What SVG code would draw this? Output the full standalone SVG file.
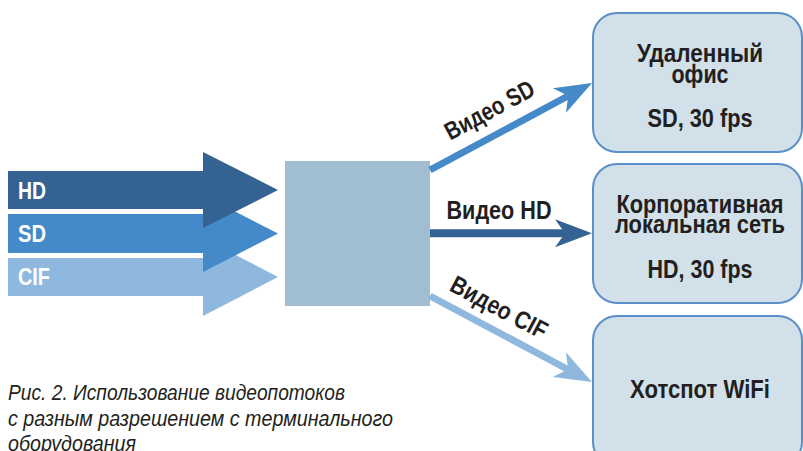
<svg xmlns="http://www.w3.org/2000/svg" xmlns:xlink="http://www.w3.org/1999/xlink" width="803" height="451" viewBox="0 0 803 451">
<style>
text{font-family:"Liberation Sans",Arial,sans-serif}
.lbl{font-weight:bold;fill:#231f20}
.in{font-weight:bold;fill:#ffffff;font-size:24px}
.box{fill:#d1e0e9;stroke:#5b8fc8;stroke-width:2}
.cap{font-style:italic;font-size:22px;fill:#231f20}
</style>
<defs>
<path id="head" d="M0,0 L-37,-14 L-27,0 L-37,14 Z"/>
</defs>
<rect width="803" height="451" fill="#ffffff"/>
<g id="in-cif">
<path d="M8,258 H203 V238 L278,277 L203,316 V296 H8 Z" fill="#8fb8de"/>
<text class="in" x="18" y="285" textLength="32" lengthAdjust="spacingAndGlyphs">CIF</text>
</g>
<g id="in-sd">
<path d="M8,214 H203 V195 L278,233.5 L203,272 V253 H8 Z" fill="#4489c8"/>
<text class="in" x="18" y="242" textLength="28" lengthAdjust="spacingAndGlyphs">SD</text>
</g>
<g id="in-hd">
<path d="M8,171 H203 V152 L278,190 L203,228 V209 H8 Z" fill="#346393"/>
<text class="in" x="18" y="198.5" textLength="28" lengthAdjust="spacingAndGlyphs">HD</text>
</g>
<g id="terminal">
<rect x="285" y="161" width="145" height="145" fill="#a0bdd2"/>
</g>
<g id="connectors">
<line x1="430" y1="170" x2="568" y2="96" stroke="#4489c8" stroke-width="7"/>
<use xlink:href="#head" fill="#4489c8" transform="translate(592,83) rotate(-28.2)"/>
<line x1="430" y1="233.3" x2="566" y2="233.3" stroke="#346393" stroke-width="8"/>
<use xlink:href="#head" fill="#346393" transform="translate(592,233.3)"/>
<line x1="430" y1="296" x2="568" y2="369.5" stroke="#8fb8de" stroke-width="7"/>
<use xlink:href="#head" fill="#8fb8de" transform="translate(592,382) rotate(28)"/>
<text class="lbl" font-size="25" text-anchor="middle" textLength="98" lengthAdjust="spacingAndGlyphs" transform="translate(493.5,117.5) rotate(-28.2)">Видео SD</text>
<text class="lbl" font-size="25" text-anchor="middle" textLength="105" lengthAdjust="spacingAndGlyphs" x="499" y="219">Видео HD</text>
<text class="lbl" font-size="25" text-anchor="middle" textLength="106" lengthAdjust="spacingAndGlyphs" transform="translate(495,315) rotate(28)">Видео CIF</text>
</g>
<g id="office">
<rect class="box" x="593" y="13" width="209" height="139" rx="24"/>
<text class="lbl" font-size="25" text-anchor="middle" textLength="126" lengthAdjust="spacingAndGlyphs" x="700" y="62">Удаленный</text>
<text class="lbl" font-size="25" text-anchor="middle" textLength="57" lengthAdjust="spacingAndGlyphs" x="700" y="83">офис</text>
<text class="lbl" font-size="25" text-anchor="middle" textLength="105" lengthAdjust="spacingAndGlyphs" x="700" y="127">SD, 30 fps</text>
</g>
<g id="lan">
<rect class="box" x="593" y="164" width="209" height="139" rx="24"/>
<text class="lbl" font-size="25" text-anchor="middle" textLength="167" lengthAdjust="spacingAndGlyphs" x="700" y="213">Корпоративная</text>
<text class="lbl" font-size="25" text-anchor="middle" textLength="170" lengthAdjust="spacingAndGlyphs" x="700" y="233">локальная сеть</text>
<text class="lbl" font-size="25" text-anchor="middle" textLength="105" lengthAdjust="spacingAndGlyphs" x="700" y="278">HD, 30 fps</text>
</g>
<g id="wifi">
<rect class="box" x="593" y="316" width="209" height="150" rx="24"/>
<text class="lbl" font-size="25" text-anchor="middle" textLength="140" lengthAdjust="spacingAndGlyphs" x="700" y="398">Хотспот WiFi</text>
</g>
<g id="caption">
<text class="cap" x="8" y="400" textLength="337" lengthAdjust="spacingAndGlyphs">Рис. 2. Использование видеопотоков</text>
<text class="cap" x="8" y="425.5" textLength="385" lengthAdjust="spacingAndGlyphs">с разным разрешением с терминального</text>
<text class="cap" x="8" y="451" textLength="128" lengthAdjust="spacingAndGlyphs">оборудования</text>
</g>
</svg>
